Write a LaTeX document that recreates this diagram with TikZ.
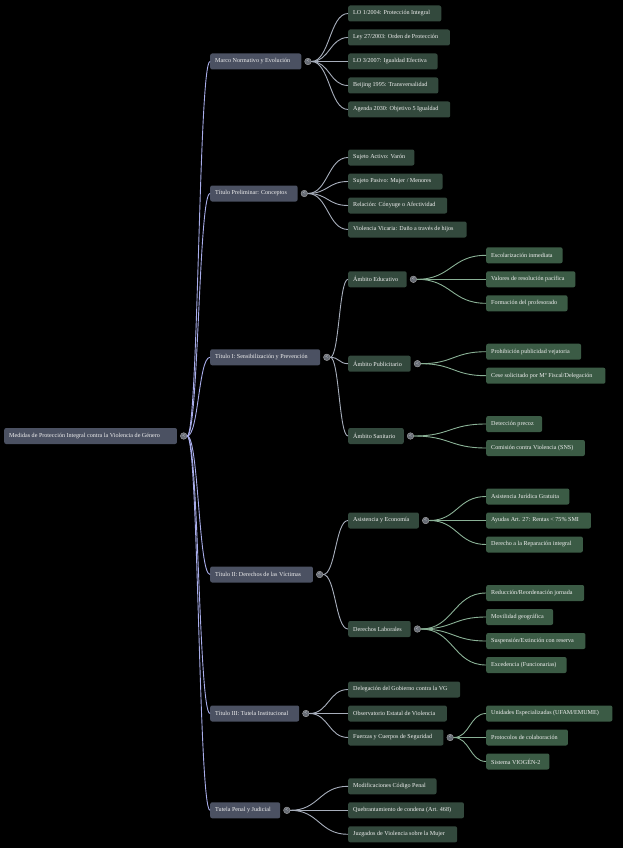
\documentclass[tikz,border=0pt]{standalone}
\usepackage{fontspec}
\setmainfont{Liberation Serif}
\usepackage{tikz}
\usetikzlibrary{calc, positioning}
\definecolor{slate}{HTML}{4B5162}
\definecolor{dgreen}{HTML}{33493D}
\definecolor{mgreen}{HTML}{3B5B45}
\definecolor{txt}{HTML}{F0F0F0}
\definecolor{lav}{HTML}{A8ADEA}
\definecolor{greyline}{HTML}{A7AEBB}
\definecolor{greenline}{HTML}{8AB196}
\definecolor{toggray}{HTML}{666B74}
\newcommand{\bx}[1]{\makebox[1.08\width][l]{#1}}
\tikzset{
  box/.style={rectangle, rounded corners=2pt, minimum height=16pt, inner xsep=5pt, inner ysep=0pt,
    text=txt, font=\fontsize{6.1}{7}\selectfont, anchor=west},
  lvone/.style={box, fill=slate},
  lvtwo/.style={box, fill=dgreen},
  lvthree/.style={box, fill=mgreen},
  tog/.style={circle, minimum size=6.6pt, inner sep=0pt, fill=toggray, draw=gray!70, line width=0.4pt,
    text=white, font=\fontsize{5}{5}\selectfont},
  link/.style={line width=0.9pt, to path={let \p1=(\tikztostart), \p2=(\tikztotarget) in
    .. controls ({(\x1+\x2)/2},\y1) and ({(\x1+\x2)/2},\y2) .. (\tikztotarget)}}
}

\begin{document}
\begin{tikzpicture}[x=1pt, y=-1pt]
        \useasboundingbox[fill=black] (0,0) rectangle (623,848);

        % Root and titles
        \node[lvone] (root) at (4, 436) {\bx{Medidas de Protección Integral contra la Violencia de Género}};
        \node[lvone] (marco) at (210, 61.5) {\bx{Marco Normativo y Evolución}};
        \node[lvone] (prelim) at (210, 193.5) {\bx{Título Preliminar: Conceptos}};
        \node[lvone] (tit1) at (210, 357.3) {\bx{Título I: Sensibilización y Prevención}};
        \node[lvone] (tit2) at (210, 574.5) {\bx{Título II: Derechos de las Víctimas}};
        \node[lvone] (tit3) at (210, 713.5) {\bx{Título III: Tutela Institucional}};
        \node[lvone] (penal) at (210, 810.3) {\bx{Tutela Penal y Judicial}};

        % Marco normativo
        \node[lvtwo] (lo1) at (348, 13.5) {\bx{LO 1/2004: Protección Integral}};
        \node[lvtwo] (ley27) at (348, 37.5) {\bx{Ley 27/2003: Orden de Protección}};
        \node[lvtwo] (lo3) at (348, 61.5) {\bx{LO 3/2007: Igualdad Efectiva}};
        \node[lvtwo] (beijing) at (348, 85.5) {\bx{Beijing 1995: Transversalidad}};
        \node[lvtwo] (agenda) at (348, 109.5) {\bx{Agenda 2030: Objetivo 5 Igualdad}};

        % Titulo preliminar
        \node[lvtwo] (activo) at (348, 157.5) {\bx{Sujeto Activo: Varón}};
        \node[lvtwo] (pasivo) at (348, 181.5) {\bx{Sujeto Pasivo: Mujer / Menores}};
        \node[lvtwo] (relacion) at (348, 205.5) {\bx{Relación: Cónyuge o Afectividad}};
        \node[lvtwo] (vicaria) at (348, 229.5) {\bx{Violencia Vicaria: Daño a través de hijos}};

        % Titulo I
        \node[lvtwo] (educ) at (348, 279.3) {\bx{Ámbito Educativo}};
        \node[lvtwo] (publi) at (348, 363.7) {\bx{Ámbito Publicitario}};
        \node[lvtwo] (sanit) at (348, 436) {\bx{Ámbito Sanitario}};
        \node[lvthree] (escol) at (486, 255.3) {\bx{Escolarización inmediata}};
        \node[lvthree] (valores) at (486, 279.3) {\bx{Valores de resolución pacífica}};
        \node[lvthree] (profes) at (486, 303.3) {\bx{Formación del profesorado}};
        \node[lvthree] (prohib) at (486, 351.7) {\bx{Prohibición publicidad vejatoria}};
        \node[lvthree] (cese) at (486, 375.7) {\bx{Cese solicitado por Mº Fiscal/Delegación}};
        \node[lvthree] (deteccion) at (486, 424) {\bx{Detección precoz}};
        \node[lvthree] (comision) at (486, 448) {\bx{Comisión contra Violencia (SNS)}};

        % Titulo II
        \node[lvtwo] (asist) at (348, 520.5) {\bx{Asistencia y Economía}};
        \node[lvtwo] (labor) at (348, 629) {\bx{Derechos Laborales}};
        \node[lvthree] (juridica) at (486, 496.5) {\bx{Asistencia Jurídica Gratuita}};
        \node[lvthree] (ayudas) at (486, 520.5) {\bx{Ayudas Art. 27: Rentas < 75\% SMI}};
        \node[lvthree] (repar) at (486, 544.5) {\bx{Derecho a la Reparación integral}};
        \node[lvthree] (reduc) at (486, 593) {\bx{Reducción/Reordenación jornada}};
        \node[lvthree] (movil) at (486, 617) {\bx{Movilidad geográfica}};
        \node[lvthree] (suspen) at (486, 641) {\bx{Suspensión/Extinción con reserva}};
        \node[lvthree] (exced) at (486, 665) {\bx{Excedencia (Funcionarias)}};

        % Titulo III
        \node[lvtwo] (deleg) at (348, 689.5) {\bx{Delegación del Gobierno contra la VG}};
        \node[lvtwo] (observ) at (348, 713.5) {\bx{Observatorio Estatal de Violencia}};
        \node[lvtwo] (fuerzas) at (348, 737.5) {\bx{Fuerzas y Cuerpos de Seguridad}};
        \node[lvthree] (ufam) at (486, 713.5) {\bx{Unidades Especializadas (UFAM/EMUME)}};
        \node[lvthree] (protoc) at (486, 737.5) {\bx{Protocolos de colaboración}};
        \node[lvthree] (viogen) at (486, 761.5) {\bx{Sistema VIOGÉN-2}};

        % Tutela penal
        \node[lvtwo] (codigo) at (348, 786.3) {\bx{Modificaciones Código Penal}};
        \node[lvtwo] (quebr) at (348, 810.3) {\bx{Quebrantamiento de condena (Art. 468)}};
        \node[lvtwo] (juzg) at (348, 834.3) {\bx{Juzgados de Violencia sobre la Mujer}};

        % Toggles
        \node[tog, right=3pt of root] (tRoot) {<};
        \node[tog, right=3pt of marco] (tMarco) {<};
        \node[tog, right=3pt of prelim] (tPrelim) {<};
        \node[tog, right=3pt of tit1] (tTit1) {<};
        \node[tog, right=3pt of tit2] (tTit2) {<};
        \node[tog, right=3pt of tit3] (tTit3) {<};
        \node[tog, right=3pt of penal] (tPenal) {<};
        \node[tog, right=3pt of educ] (tEduc) {<};
        \node[tog, right=3pt of publi] (tPubli) {<};
        \node[tog, right=3pt of sanit] (tSanit) {<};
        \node[tog, right=3pt of asist] (tAsist) {<};
        \node[tog, right=3pt of labor] (tLabor) {<};
        \node[tog, right=3pt of fuerzas] (tFuerzas) {<};

        % Links
        \foreach \t in {marco, prelim, tit1, tit2, tit3, penal}
          \draw[link, lav] (tRoot.east) to (\t.west);
        \foreach \t in {lo1, ley27, lo3, beijing, agenda}
          \draw[link, greyline] (tMarco.east) to (\t.west);
        \foreach \t in {activo, pasivo, relacion, vicaria}
          \draw[link, greyline] (tPrelim.east) to (\t.west);
        \foreach \t in {educ, publi, sanit}
          \draw[link, greyline] (tTit1.east) to (\t.west);
        \foreach \t in {asist, labor}
          \draw[link, greyline] (tTit2.east) to (\t.west);
        \foreach \t in {deleg, observ, fuerzas}
          \draw[link, greyline] (tTit3.east) to (\t.west);
        \foreach \t in {codigo, quebr, juzg}
          \draw[link, greyline] (tPenal.east) to (\t.west);
        \foreach \t in {escol, valores, profes}
          \draw[link, greenline] (tEduc.east) to (\t.west);
        \foreach \t in {prohib, cese}
          \draw[link, greenline] (tPubli.east) to (\t.west);
        \foreach \t in {deteccion, comision}
          \draw[link, greenline] (tSanit.east) to (\t.west);
        \foreach \t in {juridica, ayudas, repar}
          \draw[link, greenline] (tAsist.east) to (\t.west);
        \foreach \t in {reduc, movil, suspen, exced}
          \draw[link, greenline] (tLabor.east) to (\t.west);
        \foreach \t in {ufam, protoc, viogen}
          \draw[link, greenline] (tFuerzas.east) to (\t.west);
\end{tikzpicture}
\end{document}
